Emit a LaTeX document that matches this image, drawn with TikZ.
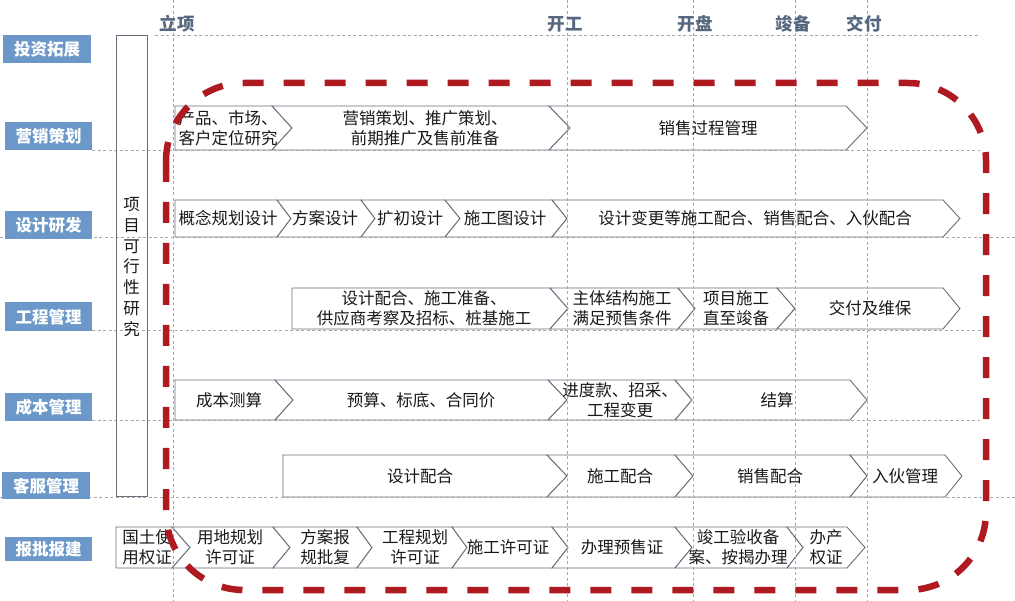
\documentclass[tikz,border=0pt]{standalone}
\usepackage{fontspec}
\newfontfamily\cjk{Noto Sans CJK SC}
\usetikzlibrary{positioning}
\definecolor{lblblue}{HTML}{6B98C8}
\definecolor{hdrcol}{HTML}{56677F}
\definecolor{gridcol}{HTML}{A8A8A8}
\definecolor{chevcol}{HTML}{65707C}
\definecolor{redd}{HTML}{AE1A1F}
\newcommand\chv[6]{\draw[chev] (#1,#5) -- (#3,#5) -- (#4,{(#5+#6)/2}) -- (#3,#6) -- (#1,#6) -- (#2,{(#5+#6)/2}) -- cycle;}
\tikzset{
  chev/.style={draw=chevcol, line width=0.9pt, fill=white},
  gridline/.style={draw=gridcol, line width=0.6pt, dash pattern=on 3pt off 2.5pt},
  lbl/.style={fill=lblblue, text=white, font=\cjk\bfseries\fontsize{16.5}{18}\selectfont, inner sep=0pt, anchor=north west},
  hdr/.style={text=hdrcol, font=\cjk\bfseries\fontsize{17.5}{19}\selectfont, inner sep=0pt},
  txt/.style={text=black!90, font=\cjk\fontsize{16.5}{20}\selectfont, align=center, inner sep=0pt},
  reddash/.style={draw=redd, line width=6.5pt, dash pattern=on 21pt off 20pt, rounded corners=78pt}
}
\begin{document}
\begin{tikzpicture}[x=1pt,y=-1pt]
\useasboundingbox (0,0) rectangle (1015,601);
\fill[white] (0,0) rectangle (1015,601);

% chevrons row 1
\chv{175}{175}{272}{292}{106}{150}
\chv{272}{292}{549}{570}{106}{150}
\chv{549}{570}{846}{867}{106}{150}
% row 2
\chv{175}{175}{277}{291}{200}{237}
\chv{277}{291}{361}{375}{200}{237}
\chv{361}{375}{445}{460}{200}{237}
\chv{445}{460}{552}{567}{200}{237}
\chv{552}{567}{943}{960}{200}{237}
% row 3
\chv{292}{292}{550}{568}{288}{329}
\chv{550}{568}{678}{695}{288}{329}
\chv{678}{695}{777}{795}{288}{329}
\chv{777}{795}{943}{960}{288}{329}
% row 4
\chv{175}{175}{275}{293}{380}{420}
\chv{275}{293}{548}{567}{380}{420}
\chv{548}{567}{675}{692}{380}{420}
\chv{675}{692}{850}{867}{380}{420}
% row 5
\chv{283}{283}{547}{567}{455}{497}
\chv{547}{567}{675}{693}{455}{497}
\chv{675}{693}{850}{867}{455}{497}
\chv{850}{867}{945}{962}{455}{497}
% row 6
\chv{116}{116}{172}{190}{527}{568}
\chv{172}{190}{273}{290}{527}{568}
\chv{273}{290}{357}{372}{527}{568}
\chv{357}{372}{452}{467}{527}{568}
\chv{452}{467}{552}{568}{527}{568}
\chv{552}{568}{675}{692}{527}{568}
\chv{675}{692}{787}{803}{527}{568}
\chv{787}{803}{847}{865}{527}{568}

% grid lines
\draw[gridline] (155,35) -- (980,35);
\draw[gridline] (92,150) -- (980,150);
\draw[gridline] (0,237) -- (1015,237);
\draw[gridline] (92,330) -- (983,330);
\draw[gridline] (92,420) -- (980,420);
\draw[gridline] (0,497) -- (1015,497);
\foreach \xx in {173,567,693,795,867} \draw[gridline] (\xx,0) -- (\xx,601);

% vertical feasibility box
\draw[chevcol, line width=0.9pt] (116,35) rectangle (147,496);
\node[txt, font=\cjk\fontsize{16.5}{20.8}\selectfont] (feas) at (131.5,267) {项\\目\\可\\行\\性\\研\\究};

% left labels
\node[lbl, minimum width=88pt, minimum height=28pt] (l1) at (3,35) {投资拓展};
\node[lbl, minimum width=87pt, minimum height=28pt] (l2) at (5,122) {营销策划};
\node[lbl, minimum width=87pt, minimum height=28pt] (l3) at (5,211) {设计研发};
\node[lbl, minimum width=87pt, minimum height=29pt] (l4) at (5,302) {工程管理};
\node[lbl, minimum width=87pt, minimum height=28pt] (l5) at (5,393) {成本管理};
\node[lbl, minimum width=88pt, minimum height=27pt] (l6) at (2,472) {客服管理};
\node[lbl, minimum width=87pt, minimum height=24pt] (l7) at (5,537) {报批报建};

% headers
\node[hdr] (h1) at (177,24) {立项};
\node[hdr] (h2) at (565,24) {开工};
\node[hdr] (h3) at (695,24) {开盘};
\node[hdr] (h4) at (793,24) {竣备};
\node[hdr] (h5) at (864,24) {交付};

% row 1 texts
\node[txt] (r1a) at (228,128) {产品、市场、\\客户定位研究};
\node[txt] (r1b) at (425,128) {营销策划、推广策划、\\前期推广及售前准备};
\node[txt] (r1c) at (708,128) {销售过程管理};
% row 2 texts
\node[txt] (r2a) at (228,218) {概念规划设计};
\node[txt] (r2b) at (325,218) {方案设计};
\node[txt] (r2c) at (410,218) {扩初设计};
\node[txt] (r2d) at (505,218) {施工图设计};
\node[txt] (r2e) at (755,218) {设计变更等施工配合、销售配合、入伙配合};
% row 3 texts
\node[txt] (r3a) at (424,308) {设计配合、施工准备、\\供应商考察及招标、桩基施工};
\node[txt] (r3b) at (622,308) {主体结构施工\\满足预售条件};
\node[txt] (r3c) at (736,308) {项目施工\\直至竣备};
\node[txt] (r3d) at (870,308) {交付及维保};
% row 4 texts
\node[txt] (r4a) at (229,400) {成本测算};
\node[txt] (r4b) at (421,400) {预算、标底、合同价};
\node[txt] (r4c) at (620,400) {进度款、招采、\\工程变更};
\node[txt] (r4d) at (777,400) {结算};
% row 5 texts
\node[txt] (r5a) at (420,476) {设计配合};
\node[txt] (r5b) at (620,476) {施工配合};
\node[txt] (r5c) at (770,476) {销售配合};
\node[txt] (r5d) at (905,476) {入伙管理};
% row 6 texts
\node[txt] (r6a) at (147,547) {国土使\\用权证};
\node[txt] (r6b) at (230,547) {用地规划\\许可证};
\node[txt] (r6c) at (325,547) {方案报\\规批复};
\node[txt] (r6d) at (415,547) {工程规划\\许可证};
\node[txt] (r6e) at (508,547) {施工许可证};
\node[txt] (r6f) at (622,547) {办理预售证};
\node[txt] (r6g) at (738,547) {竣工验收备\\案、按揭办理};
\node[txt] (r6h) at (826,547) {办产\\权证};

% red dashed rounded frame
\draw[reddash] (166,83) rectangle (986,590);
\end{tikzpicture}
\end{document}
